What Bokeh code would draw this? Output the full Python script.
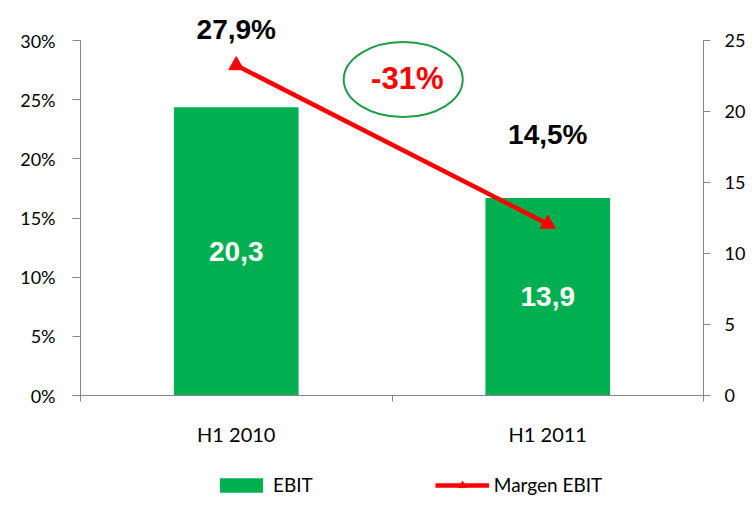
from bokeh.plotting import figure
from bokeh.layouts import column
from bokeh.models import Range1d, LinearAxis, FixedTicker, PrintfTickFormatter, Legend
from bokeh.core.properties import value
from bokeh.embed import file_html
from bokeh.resources import INLINE

# ---------------- data ----------------
categories = ["H1 2010", "H1 2011"]
ebit = [20.3, 13.9]                 # right axis
margen_ebit = [27.9, 14.5]          # left axis (%)
change_label = "-31%"
margin_ticks = [0, 5, 10, 15, 20, 25, 30]
ebit_ticks = [0, 5, 10, 15, 20, 25]

xs = list(range(len(categories)))
boundaries = [i - 0.5 for i in range(len(categories) + 1)]
ebit_labels = [f"{v:.1f}".replace(".", ",") for v in ebit]
margin_labels = [f"{v:.1f}%".replace(".", ",") for v in margen_ebit]

# ---------------- style ----------------
AXIS_FONT = "Lato"
LABEL_FONT = "Liberation Sans"
GREEN = "#00B050"
RED = "#FF0000"
OVAL = "#1F9C48"
AXIS_GRAY = "#868686"
margin_label_dy = [-36, -89]

p = figure(width=748, height=452, output_backend="svg", toolbar_location=None,
           x_range=Range1d(-0.5, 1.5), y_range=Range1d(0, 30),
           min_border_left=80, min_border_right=41, min_border_top=40,
           min_border_bottom=57)
p.extra_y_ranges = {"ebit": Range1d(0, 25)}
p.outline_line_color = None
p.xgrid.visible = False
p.ygrid.visible = False
p.background_fill_color = "white"
p.border_fill_color = "white"

bars = p.vbar(x=xs, top=ebit, width=0.4, y_range_name="ebit",
              fill_color=GREEN, line_color=None)
line = p.line(xs, margen_ebit, line_color=RED, line_width=4.5)
marks = p.scatter(xs, margen_ebit, marker="triangle", size=15,
                  fill_color=RED, line_color=RED)

# bar value labels (mid-bar)
p.text(x=xs, y=[v / 2 for v in ebit], text=ebit_labels, y_range_name="ebit",
       text_font=value(LABEL_FONT), text_font_style="bold", text_font_size="28px",
       text_color="white", text_align="center", text_baseline="middle")

# margin labels
for i in range(len(categories)):
    r = p.text(x=[xs[i]], y=[margen_ebit[i]], text=[margin_labels[i]],
               y_offset=margin_label_dy[i],
               text_font=value(LABEL_FONT), text_font_style="bold",
               text_font_size="28px", text_color="black",
               text_align="center", text_baseline="middle")
    r.level = "annotation"

# change oval
p.ellipse(x=[0.536], y=[26.7], width=119, height=75, width_units="screen",
          height_units="screen", fill_color=None, line_color=OVAL, line_width=2)
p.text(x=[0.549], y=[26.75], text=[change_label],
       text_font=value(LABEL_FONT), text_font_style="bold", text_font_size="31px",
       text_color=RED, text_align="center", text_baseline="middle")

# ---------------- axes ----------------
xa = p.xaxis[0]
xa.ticker = FixedTicker(ticks=xs, minor_ticks=boundaries)
xa.major_label_overrides = {i: c for i, c in zip(xs, categories)}
xa.major_tick_out = 0
xa.major_tick_in = 0
xa.minor_tick_out = 6
xa.minor_tick_in = 0
xa.minor_tick_line_color = AXIS_GRAY
xa.axis_line_color = AXIS_GRAY
xa.major_label_standoff = 20
xa.major_label_text_font = AXIS_FONT
xa.major_label_text_font_size = "20px"
xa.major_label_text_color = "black"

ya = p.yaxis[0]
ya.ticker = FixedTicker(ticks=margin_ticks)
ya.formatter = PrintfTickFormatter(format="%d%%")
ya.major_tick_out = 8
ya.major_tick_in = 0
ya.minor_tick_line_color = None
ya.major_tick_line_color = AXIS_GRAY
ya.axis_line_color = AXIS_GRAY
ya.major_label_standoff = 17
ya.major_label_text_font = AXIS_FONT
ya.major_label_text_font_size = "18px"
ya.major_label_text_color = "black"

ra = LinearAxis(y_range_name="ebit", ticker=FixedTicker(ticks=ebit_ticks))
ra.major_tick_out = 7
ra.major_tick_in = 0
ra.minor_tick_line_color = None
ra.major_tick_line_color = AXIS_GRAY
ra.axis_line_color = AXIS_GRAY
ra.major_label_standoff = 14
ra.major_label_text_font = AXIS_FONT
ra.major_label_text_font_size = "18px"
ra.major_label_text_color = "black"
p.add_layout(ra, "right")

# ---------------- legend strip ----------------
# same series, drawn outside this strip's visible range; only the legend shows
lg = figure(width=748, height=44, output_backend="svg", toolbar_location=None,
            x_range=Range1d(-0.5, 1.5), y_range=Range1d(100, 101),
            x_axis_type=None, y_axis_type=None, min_border=0)
lg.outline_line_color = None
lg.xgrid.visible = False
lg.ygrid.visible = False
lg_bars = lg.vbar(x=xs, top=ebit, width=0.4, fill_color=GREEN, line_color=None)
lg_line = lg.line(xs, margen_ebit, line_color=RED, line_width=4.5)
lg_marks = lg.scatter(xs, margen_ebit, marker="triangle", size=15,
                      fill_color=RED, line_color=RED)

legend = Legend(items=[("EBIT", [lg_bars]), ("Margen EBIT", [lg_line, lg_marks])],
                location=(134, 0), orientation="horizontal",
                glyph_width=54, glyph_height=18, label_standoff=5, spacing=122,
                padding=0, margin=0, border_line_color=None,
                background_fill_alpha=0, label_height=18,
                label_text_font=AXIS_FONT, label_text_font_size="19px",
                label_text_color="black")
lg.add_layout(legend, "center")

layout = column(p, lg, spacing=0)
open("out.html", "w").write(file_html(layout, INLINE))
